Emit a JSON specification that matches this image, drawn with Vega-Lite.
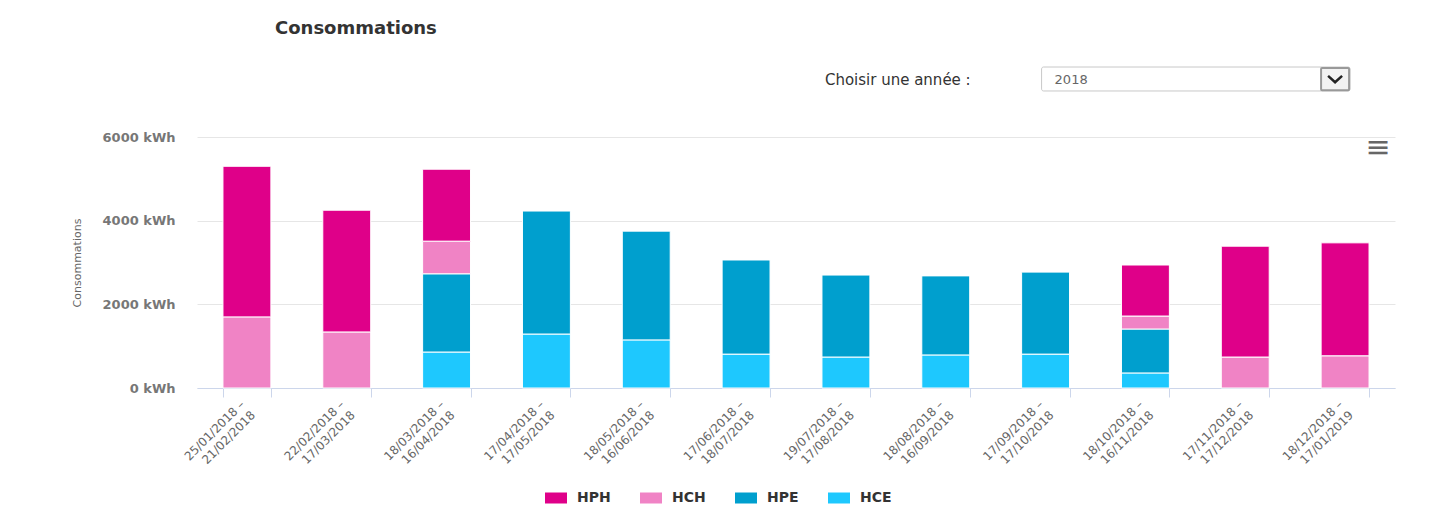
{
  "$schema": "https://vega.github.io/schema/vega-lite/v6.json",
  "width": 1198,
  "height": 251,
  "autosize": {"type": "none"},
  "padding": {"left": 197, "top": 137, "right": 44, "bottom": 130},
  "background": "white",
  "title": {
    "text": "Consommations",
    "anchor": "start",
    "frame": "group",
    "dx": 78,
    "offset": 29,
    "font": "DejaVu Sans",
    "fontSize": 18,
    "fontWeight": "bold",
    "color": "#333333"
  },
  "config": {"view": {"stroke": null}, "font": "DejaVu Sans"},
  "layer": [
    {
      "data": {
        "values": [
          {"periode": "25/01/2018 – 21/02/2018", "tarif": "HCH", "saison": "hiver", "plage": "creuses", "kwh": 1700},
          {"periode": "25/01/2018 – 21/02/2018", "tarif": "HPH", "saison": "hiver", "plage": "pleines", "kwh": 3600},
          {"periode": "22/02/2018 – 17/03/2018", "tarif": "HCH", "saison": "hiver", "plage": "creuses", "kwh": 1340},
          {"periode": "22/02/2018 – 17/03/2018", "tarif": "HPH", "saison": "hiver", "plage": "pleines", "kwh": 2910},
          {"periode": "18/03/2018 – 16/04/2018", "tarif": "HCE", "saison": "été", "plage": "creuses", "kwh": 860},
          {"periode": "18/03/2018 – 16/04/2018", "tarif": "HPE", "saison": "été", "plage": "pleines", "kwh": 1870},
          {"periode": "18/03/2018 – 16/04/2018", "tarif": "HCH", "saison": "hiver", "plage": "creuses", "kwh": 780},
          {"periode": "18/03/2018 – 16/04/2018", "tarif": "HPH", "saison": "hiver", "plage": "pleines", "kwh": 1720},
          {"periode": "17/04/2018 – 17/05/2018", "tarif": "HCE", "saison": "été", "plage": "creuses", "kwh": 1290},
          {"periode": "17/04/2018 – 17/05/2018", "tarif": "HPE", "saison": "été", "plage": "pleines", "kwh": 2940},
          {"periode": "18/05/2018 – 16/06/2018", "tarif": "HCE", "saison": "été", "plage": "creuses", "kwh": 1150},
          {"periode": "18/05/2018 – 16/06/2018", "tarif": "HPE", "saison": "été", "plage": "pleines", "kwh": 2600},
          {"periode": "17/06/2018 – 18/07/2018", "tarif": "HCE", "saison": "été", "plage": "creuses", "kwh": 810},
          {"periode": "17/06/2018 – 18/07/2018", "tarif": "HPE", "saison": "été", "plage": "pleines", "kwh": 2250},
          {"periode": "19/07/2018 – 17/08/2018", "tarif": "HCE", "saison": "été", "plage": "creuses", "kwh": 740},
          {"periode": "19/07/2018 – 17/08/2018", "tarif": "HPE", "saison": "été", "plage": "pleines", "kwh": 1960},
          {"periode": "18/08/2018 – 16/09/2018", "tarif": "HCE", "saison": "été", "plage": "creuses", "kwh": 790},
          {"periode": "18/08/2018 – 16/09/2018", "tarif": "HPE", "saison": "été", "plage": "pleines", "kwh": 1890},
          {"periode": "17/09/2018 – 17/10/2018", "tarif": "HCE", "saison": "été", "plage": "creuses", "kwh": 810},
          {"periode": "17/09/2018 – 17/10/2018", "tarif": "HPE", "saison": "été", "plage": "pleines", "kwh": 1960},
          {"periode": "18/10/2018 – 16/11/2018", "tarif": "HCE", "saison": "été", "plage": "creuses", "kwh": 360},
          {"periode": "18/10/2018 – 16/11/2018", "tarif": "HPE", "saison": "été", "plage": "pleines", "kwh": 1050},
          {"periode": "18/10/2018 – 16/11/2018", "tarif": "HCH", "saison": "hiver", "plage": "creuses", "kwh": 310},
          {"periode": "18/10/2018 – 16/11/2018", "tarif": "HPH", "saison": "hiver", "plage": "pleines", "kwh": 1220},
          {"periode": "17/11/2018 – 17/12/2018", "tarif": "HCH", "saison": "hiver", "plage": "creuses", "kwh": 740},
          {"periode": "17/11/2018 – 17/12/2018", "tarif": "HPH", "saison": "hiver", "plage": "pleines", "kwh": 2650},
          {"periode": "18/12/2018 – 17/01/2019", "tarif": "HCH", "saison": "hiver", "plage": "creuses", "kwh": 770},
          {"periode": "18/12/2018 – 17/01/2019", "tarif": "HPH", "saison": "hiver", "plage": "pleines", "kwh": 2700}
        ]
      },
      "transform": [
        {
          "stack": "kwh",
          "groupby": ["periode"],
          "sort": [
            {"field": "saison", "order": "descending"},
            {"field": "plage", "order": "ascending"}
          ],
          "as": ["kwh_bas", "kwh_haut"]
        }
      ],
      "mark": {"type": "bar", "stroke": "white", "strokeWidth": 1},
      "encoding": {
        "x": {
          "field": "periode",
          "type": "nominal",
          "sort": null,
          "scale": {"paddingInner": 0.52, "paddingOuter": 0.26},
          "axis": {
            "title": null,
            "labelAngle": -45,
            "labelAlign": "right",
            "labelBaseline": "middle",
            "labelExpr": "[slice(datum.label, 0, 12), slice(datum.label, 13)]",
            "labelOverlap": false,
            "tickBand": "extent",
            "tickSize": 9,
            "tickColor": "#ccd6eb",
            "domainColor": "#ccd6eb",
            "labelColor": "#666666",
            "labelFont": "DejaVu Sans",
            "labelFontSize": 12,
            "labelLineHeight": 15,
            "labelPadding": 5,
            "labelOffset": -5
          }
        },
        "y": {
          "field": "kwh_haut",
          "type": "quantitative",
          "scale": {"domain": [0, 6000], "nice": false},
          "axis": {
            "title": "Consommations",
            "values": [0, 2000, 4000, 6000],
            "labelExpr": "datum.value + ' kWh'",
            "domain": false,
            "ticks": false,
            "grid": true,
            "gridColor": "#e6e6e6",
            "labelPadding": 22,
            "labelFont": "DejaVu Sans",
            "labelFontSize": 13,
            "labelFontWeight": "bold",
            "labelColor": "#777777",
            "titleFont": "DejaVu Sans",
            "titleFontSize": 11,
            "titleFontWeight": "normal",
            "titleColor": "#666666",
            "titlePadding": 20
          }
        },
        "y2": {"field": "kwh_bas"},
        "color": {
          "field": "tarif",
          "type": "nominal",
          "scale": {
            "domain": ["HPH", "HCH", "HPE", "HCE"],
            "range": ["#df0089", "#f083c5", "#009fce", "#1ec8fe"]
          },
          "legend": {
            "orient": "none",
            "legendX": 348,
            "legendY": 350,
            "direction": "horizontal",
            "title": null,
            "values": ["HPH", "HCH", "HPE", "HCE"],
            "symbolType": "M-1,-0.5H1V0.5H-1Z",
            "symbolSize": 484,
            "symbolStrokeWidth": 0,
            "symbolOpacity": 1,
            "labelFont": "DejaVu Sans",
            "labelFontSize": 14,
            "labelFontWeight": "bold",
            "labelColor": "#333333",
            "labelOffset": 10,
            "columnPadding": 29
          }
        }
      }
    },
    {
      "data": {"values": [{"libelle": "Choisir une année :"}]},
      "mark": {"type": "text", "align": "left", "baseline": "middle", "dx": -21, "font": "DejaVu Sans", "fontSize": 15, "color": "#333333"},
      "encoding": {
        "x": {"datum": "19/07/2018 – 17/08/2018"},
        "y": {"datum": 7363},
        "text": {"field": "libelle"}
      }
    },
    {
      "data": {"values": [{"champ": "annee"}]},
      "mark": {"type": "rect", "fill": "white", "stroke": "#c8c8c8", "strokeWidth": 1, "cornerRadius": 2, "xOffset": -4, "x2Offset": 5},
      "encoding": {
        "x": {"datum": "17/09/2018 – 17/10/2018", "bandPosition": 0.5},
        "x2": {"datum": "18/12/2018 – 17/01/2019"},
        "y": {"datum": 7673},
        "y2": {"datum": 7100}
      }
    },
    {
      "data": {"values": [{"champ": "bouton"}]},
      "mark": {"type": "rect", "fill": "#f2f2f2", "stroke": "#999999", "strokeWidth": 2, "cornerRadius": 1, "xOffset": -24, "x2Offset": 4},
      "encoding": {
        "x": {"datum": "18/12/2018 – 17/01/2019", "bandPosition": 0.5},
        "x2": {"datum": "18/12/2018 – 17/01/2019"},
        "y": {"datum": 7650},
        "y2": {"datum": 7120}
      }
    },
    {
      "data": {"values": [{"champ": "chevron"}]},
      "mark": {"type": "point", "shape": "M-1,-0.45L0,0.45L1,-0.45", "filled": false, "stroke": "#222222", "strokeWidth": 2.5, "size": 196, "opacity": 1, "xOffset": -10},
      "encoding": {
        "x": {"datum": "18/12/2018 – 17/01/2019"},
        "y": {"datum": 7385}
      }
    },
    {
      "data": {"values": [{"libelle": "2018"}]},
      "mark": {"type": "text", "align": "left", "baseline": "middle", "dx": 9, "font": "DejaVu Sans", "fontSize": 13, "color": "#666666"},
      "encoding": {
        "x": {"datum": "17/09/2018 – 17/10/2018"},
        "y": {"datum": 7363},
        "text": {"field": "libelle"}
      }
    },
    {
      "data": {"values": [{"libelle": "≡"}]},
      "mark": {"type": "text", "align": "center", "baseline": "middle", "dx": 33, "font": "DejaVu Sans", "fontSize": 30, "color": "#666666"},
      "encoding": {
        "x": {"datum": "18/12/2018 – 17/01/2019"},
        "y": {"datum": 5737},
        "text": {"field": "libelle"}
      }
    }
  ]
}
